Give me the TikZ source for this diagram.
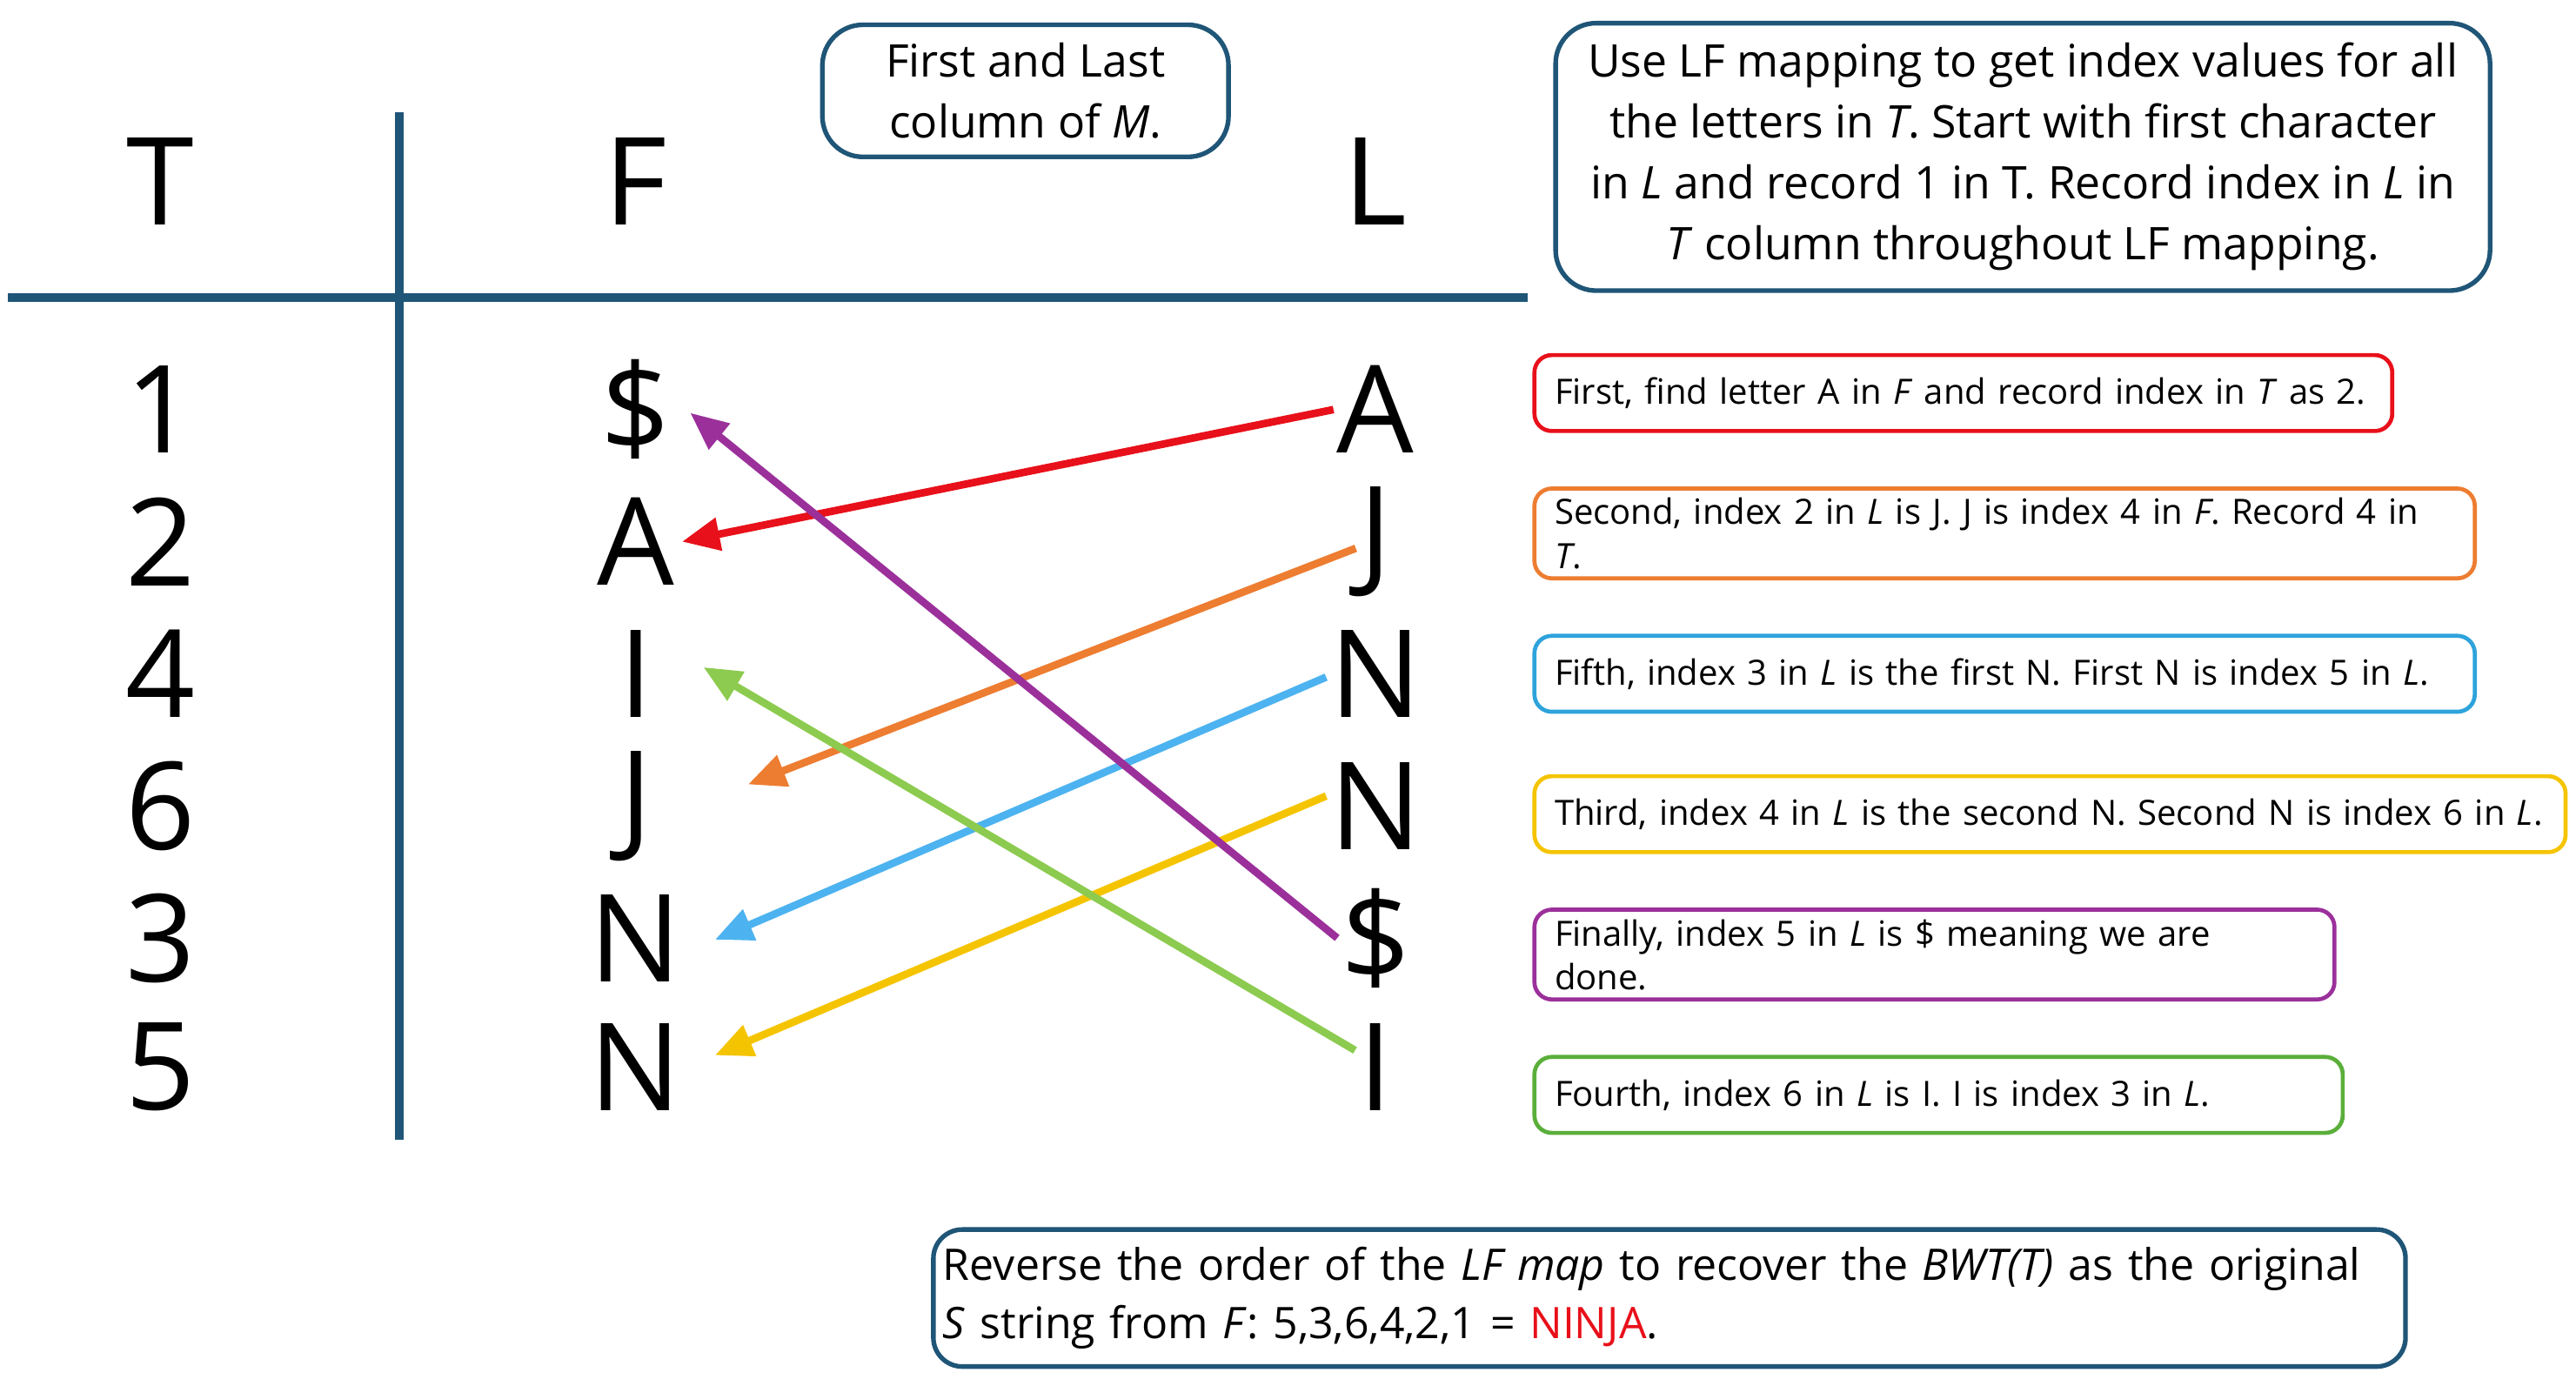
\documentclass[tikz,border=0pt]{standalone}
\usepackage{fontspec}
\setmainfont{Open Sans}
\usepackage{xcolor}
\usetikzlibrary{positioning,calc,arrows.meta}
\definecolor{frame}{HTML}{1F5577}
\definecolor{cred}{HTML}{E8101A}
\definecolor{corange}{HTML}{ED7D31}
\definecolor{cblue}{HTML}{4DB3F0}
\definecolor{cyellow}{HTML}{F5C400}
\definecolor{cpurple}{HTML}{9B309B}
\definecolor{cgreen}{HTML}{8CCB4F}
\definecolor{bblue}{HTML}{2EA3DB}
\definecolor{bgreen}{HTML}{5AAF3A}
\begin{document}
\begin{tikzpicture}[x=0.02cm, y=-0.02cm,
    big/.style={font=\fontsize{42}{44}\selectfont, inner sep=1pt},
    note/.style={rectangle, draw=frame, line width=1.6pt, rounded corners=14pt, align=center, font=\fontsize{15.5}{21}\selectfont},
    step box/.style={rectangle, draw=#1, line width=1.4pt, rounded corners=6pt, minimum height=0.92cm, anchor=west, inner xsep=7pt, align=left, font=\fontsize{12}{15}\selectfont},
    arrow/.style={-{Triangle[length=13pt,width=11pt]}, line width=2.6pt, draw=#1}
]
    \useasboundingbox (0,0) rectangle (1560,839);
    % table lines
    \draw[frame, line width=3pt] (5,180) -- (925,180);
    \draw[frame, line width=3pt] (242,68) -- (242,690);
    % headers
    \node[big] (hT) at (97,110) {T};
    \node[big] (hF) at (385,110) {F};
    \node[big] (hL) at (833,110) {L};
    % columns
    \foreach \y/\t/\f/\l [count=\i] in {248/1/\$/A, 328/2/A/J, 408/4/I/N, 488/6/J/N, 568/3/N/\$, 646/5/N/I} {
        \node[big] (t\i) at (97,\y) {\t};
        \node[big] (f\i) at (385,\y) {\f};
        \node[big] (l\i) at (833,\y) {\l};
    }
    % arrow ends
    \coordinate (e1) at (413,328);
    \coordinate (e2) at (453,475);
    \coordinate (e3) at (433,569);
    \coordinate (e4) at (433,639);
    \coordinate (e5) at (418,250);
    \coordinate (e6) at (426,404);
    \draw[arrow=cred] (l1.west |- 0,248) -- (e1);
    \draw[arrow=corange] (l2.west |- 0,332) -- (e2);
    \draw[arrow=cblue] (l3.west |- 0,410) -- (e3);
    \draw[arrow=cyellow] (l4.west |- 0,482) -- (e4);
    \draw[arrow=cgreen] (l6.west |- 0,636) -- (e6);
    \draw[arrow=cpurple] (l5.west |- 0,568) -- (e5);
    % notes
    \node[note, minimum width=4.92cm, minimum height=1.6cm] (cols) at (621,55) {First and Last\\column of \textit{M}.};
    \node[note, minimum width=11.32cm, minimum height=3.24cm] (howto) at (1225,95) {Use LF mapping to get index values for all\\the letters in \textit{T}. Start with first character\\in \textit{L} and record 1 in T. Record index in \textit{L} in\\\textit{T} column throughout LF mapping.};
    \node[step box=cred, text width=9.9cm] (s1) at (928,238) {First, find letter A in \textit{F} and record index in \textit{T} as 2.};
    \node[step box=corange, text width=10.9cm] (s2) at (928,323) {Second, index 2 in \textit{L} is J. J is index 4 in \textit{F}. Record 4 in \textit{T}.};
    \node[step box=bblue, text width=10.9cm] (s3) at (928,408) {Fifth, index 3 in \textit{L} is the first N. First N is index 5 in \textit{L}.};
    \node[step box=cyellow, text width=12.0cm] (s4) at (928,493) {Third, index 4 in \textit{L} is the second N. Second N is index 6 in \textit{L}.};
    \node[step box=cpurple, text width=9.2cm] (s5) at (928,578) {Finally, index 5 in \textit{L} is \$ meaning we are done.};
    \node[step box=bgreen, text width=9.3cm] (s6) at (928,663) {Fourth, index 6 in \textit{L} is I. I is index 3 in \textit{L}.};
    \node[note, align=left, text width=17.6cm, minimum height=1.66cm, rounded corners=10pt, font=\fontsize{15}{20}\selectfont] (result) at (1011,786) {Reverse the order of the \textit{LF map} to recover the \textit{BWT(T)} as the original\\\textit{S} string from \textit{F}: 5,3,6,4,2,1 = \textcolor{cred}{NINJA}.};
\end{tikzpicture}
\end{document}
